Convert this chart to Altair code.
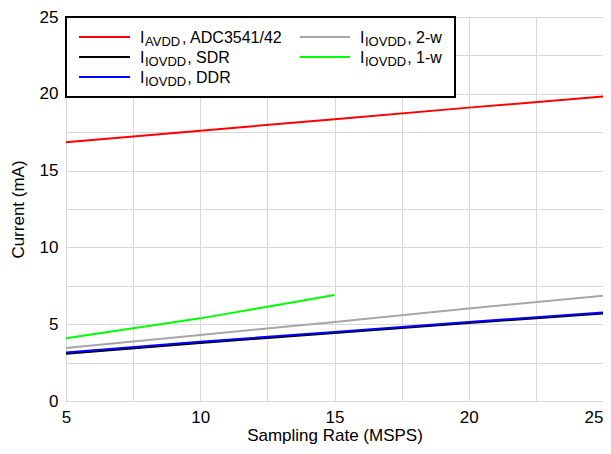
import altair as alt
import pandas as pd

# ---- data ----
x_main = [5, 10, 15, 20, 25]
avdd = [16.85, 17.6, 18.35, 19.1, 19.82]
iovdd_sdr = [3.08, 3.78, 4.43, 5.08, 5.70]
iovdd_ddr = [3.15, 3.85, 4.50, 5.15, 5.76]
iovdd_2w = [3.45, 4.3, 5.15, 6.02, 6.85]
x_1w = [5, 7.5, 10, 12.5, 15]
iovdd_1w = [4.08, 4.73, 5.38, 6.14, 6.9]

series_names = ["AVDD", "SDR", "DDR", "2w", "1w"]
series_colors = ["#ff0000", "#000000", "#0000ff", "#a6a6a6", "#00ff00"]

rows = []
for name, xs_, ys_ in [
    ("AVDD", x_main, avdd),
    ("SDR", x_main, iovdd_sdr),
    ("DDR", x_main, iovdd_ddr),
    ("2w", x_main, iovdd_2w),
    ("1w", x_1w, iovdd_1w),
]:
    for i, (a, b) in enumerate(zip(xs_, ys_)):
        rows.append({"series": name, "x": a, "y": b, "order": i})
df = pd.DataFrame(rows)

x_grid = [5, 7.5, 10, 12.5, 15, 17.5, 20, 22.5, 25]
y_grid = [0, 2.5, 5, 7.5, 10, 12.5, 15, 17.5, 20, 22.5, 25]

FONT = "Liberation Sans"
W, H = 537, 384

xs = alt.Scale(domain=[5, 25], nice=False, zero=False)
ys = alt.Scale(domain=[0, 25], nice=False)

lines = alt.Chart(df).mark_line(strokeWidth=2).encode(
    x=alt.X("x:Q", scale=xs, title="Sampling Rate (MSPS)",
            axis=alt.Axis(values=x_grid, labelExpr="datum.value % 5 == 0 ? datum.label : ''",
                          grid=True, ticks=False, domain=False, labelPadding=8,
                          labelAlign={"condition": {"test": "datum.value == 25", "value": "right"},
                                      "value": "center"},
                          labelFontSize=17, titleFontSize=17, titlePadding=2,
                          labelFont=FONT, titleFont=FONT, labelColor="#000", titleColor="#000",
                          titleFontWeight="normal", gridColor="#d9d9d9", labelFlush=False)),
    y=alt.Y("y:Q", scale=ys, title="Current (mA)",
            axis=alt.Axis(values=y_grid, labelExpr="datum.value % 5 == 0 ? datum.label : ''",
                          grid=True, ticks=False, domain=False, labelPadding=8,
                          labelFontSize=17, titleFontSize=17, titlePadding=12,
                          labelFont=FONT, titleFont=FONT, labelColor="#000", titleColor="#000",
                          titleFontWeight="normal", gridColor="#d9d9d9", labelFlush=False)),
    color=alt.Color("series:N", scale=alt.Scale(domain=series_names, range=series_colors), legend=None),
    detail="series:N",
    order="order:Q",
)

# ---- custom legend with subscripts ----
leg_rows = [20, 40, 60]
legend_entries = [
    # (col, row, color, sub, rest)
    (0, 0, "#ff0000", "AVDD", ", ADC3541/42"),
    (0, 1, "#000000", "IOVDD", ", SDR"),
    (0, 2, "#0000ff", "IOVDD", ", DDR"),
    (1, 0, "#a6a6a6", "IOVDD", ", 2-w"),
    (1, 1, "#00ff00", "IOVDD", ", 1-w"),
]
col_line = [(13, 64), (234, 284)]
col_text = [74, 294]
SUB_FS = 13
char_w = {"A": 0.667, "V": 0.667, "D": 0.722, "I": 0.278, "O": 0.778}
sub_off = 5

layers = [lines]
box = alt.Chart(pd.DataFrame({"a": [0]})).mark_rect(fill="white", stroke="black", strokeWidth=2).encode(
    x=alt.value(0), x2=alt.value(389), y=alt.value(0), y2=alt.value(80))
layers.append(box)
for col, row, color, sub, rest in legend_entries:
    yy = leg_rows[row]
    x0, x1 = col_line[col]
    d = pd.DataFrame({"a": [0]})
    layers.append(alt.Chart(d).mark_rule(color=color, strokeWidth=2).encode(
        x=alt.value(x0), x2=alt.value(x1), y=alt.value(yy)))
    tx = col_text[col]
    sub_w = sum(char_w[c] for c in sub) * SUB_FS
    layers.append(alt.Chart(d).mark_text(text="I", font=FONT, fontSize=16, align="left",
                                         baseline="alphabetic", color="black").encode(
        x=alt.value(tx), y=alt.value(yy + 6)))
    layers.append(alt.Chart(d).mark_text(text=sub, font=FONT, fontSize=SUB_FS, align="left",
                                         baseline="alphabetic", color="black").encode(
        x=alt.value(tx + sub_off), y=alt.value(yy + 9)))
    layers.append(alt.Chart(d).mark_text(text=rest, font=FONT, fontSize=16, align="left",
                                         baseline="alphabetic", color="black").encode(
        x=alt.value(tx + sub_off + sub_w + 1), y=alt.value(yy + 6)))

chart = alt.layer(*layers).properties(
    width=W, height=H,
    autosize=alt.AutoSizeParams(type="none"),
    padding={"left": 58, "top": 9, "right": 0, "bottom": 45},
).configure_view(stroke="black", strokeWidth=2.5).configure(background="white")

chart.save("out.html", embed_options={"renderer": "svg", "actions": False})
